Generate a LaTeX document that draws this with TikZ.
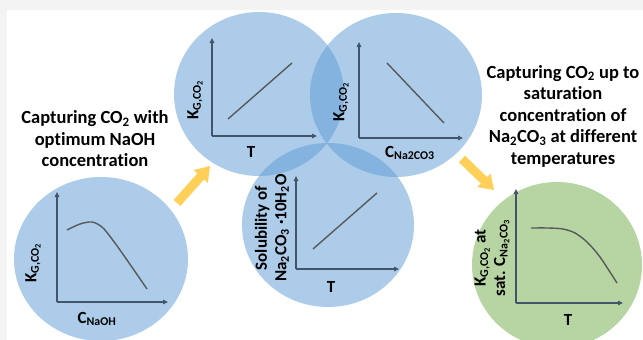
\documentclass[tikz,border=0pt]{standalone}
\usepackage{fontspec}
\setmainfont{Carlito}[Ligatures={NoCommon}]
\usetikzlibrary{arrows.meta,calc}
\definecolor{bgray}{RGB}{243,243,243}
\definecolor{cblue}{HTML}{5B9BD5}
\definecolor{cgreen}{HTML}{70AD47}
\definecolor{cyell}{RGB}{255,208,88}
\definecolor{axisc}{HTML}{44546A}
\definecolor{linec}{HTML}{595959}
\newcommand{\subs}[1]{\textsubscript{#1}}
\newcommand{\yarrow}[2]{%
  \coordinate (m) at ($(#2)!14pt!(#1)$);
  \fill[yarrowstyle] ($(#1)!4.5pt!90:(#2)$) -- ($(m)!4.5pt!-90:(#1)$) -- ($(m)!9.5pt!-90:(#1)$) -- (#2)
     -- ($(m)!9.5pt!90:(#1)$) -- ($(m)!4.5pt!90:(#1)$) -- ($(#1)!4.5pt!-90:(#2)$) -- cycle;}
\begin{document}
\begin{tikzpicture}[x=1pt,y=-1pt,
  bubble/.style={fill=cblue,fill opacity=0.5,draw=none},
  gbubble/.style={fill=cgreen,fill opacity=0.5,draw=none},
  axis/.style={draw=axisc,line width=1.4pt,-{Triangle[length=5pt,width=4.5pt]}},
  trend/.style={draw=linec,line width=1.4pt},
  lab/.style={font=\fontsize{17}{19.5}\selectfont\bfseries,inner sep=0pt,align=center},
  caption/.style={font=\fontsize{18.5}{21.5}\selectfont\bfseries,align=center,inner sep=0pt},
  yarrowstyle/.style={fill=cyell,draw=none}]
\useasboundingbox (0,0) rectangle (643,340);
\clip (0,0) rectangle (643,340);
\fill[bgray] (0,0) rectangle (643,340);
\fill[white] (7,10) rectangle (643,340);
% bubbles
\fill[bubble] (259,94) ellipse [x radius=85, y radius=82];
\fill[bubble] (396,95) ellipse [x radius=86, y radius=82];
\fill[bubble] (328,225) ellipse [x radius=86, y radius=82];
\fill[bubble] (101,259) ellipse [x radius=87, y radius=82];
\fill[gbubble] (557,265) ellipse [x radius=85, y radius=83];
% yellow arrows
\coordinate (a1t) at (177,203); \coordinate (a1h) at (210,166);
\coordinate (a2t) at (462,159); \coordinate (a2h) at (494,190);
\yarrow{a1t}{a1h}
\yarrow{a2t}{a2h}
% graph 1
\coordinate (o1) at (212,136); \coordinate (y1) at (212,38); \coordinate (x1) at (317,136);
\draw[axis] (o1) -- (y1); \draw[axis] (o1) -- (x1);
\coordinate (s1) at (228,119); \coordinate (e1) at (292,63);
\draw[trend] (s1) -- (e1);
\node[lab,rotate=90] (k1) at (195,100) {K\subs{G,CO\subs{2}}};
\node[lab] (t1) at (251,152) {T};
% graph 2
\coordinate (o2) at (359,138); \coordinate (y2) at (359,42); \coordinate (x2) at (463,138);
\draw[axis] (o2) -- (y2); \draw[axis] (o2) -- (x2);
\coordinate (s2) at (387,63); \coordinate (e2) at (444,123);
\draw[trend] (s2) -- (e2);
\node[lab,rotate=90] (k2) at (341,102) {K\subs{G,CO\subs{2}}};
\node[lab] (c2) at (410,153) {C\subs{Na2CO3}};
% graph 3
\coordinate (o3) at (296,269); \coordinate (y3) at (296,176); \coordinate (x3) at (399,269);
\draw[axis] (o3) -- (y3); \draw[axis] (o3) -- (x3);
\coordinate (s3) at (313,249); \coordinate (e3) at (377,193);
\draw[trend] (s3) -- (e3);
\node[lab,rotate=90] (k3) at (272,228) {Solubility of\\Na\subs{2}CO\subs{3} ·10H\subs{2}O};
\node[lab] (t3) at (331,287) {T};
% graph 4
\coordinate (o4) at (57,302); \coordinate (y4) at (57,192); \coordinate (x4) at (168,302);
\draw[axis] (o4) -- (y4); \draw[axis] (o4) -- (x4);
\draw[trend] plot[smooth] coordinates {(67,230) (80,224) (92,222) (102,227) (112,239) (127,260) (147,289)};
\node[lab,rotate=90] (k4) at (33,263) {K\subs{G,CO\subs{2}}};
\node[lab] (c4) at (97,319) {C\subs{NaOH}};
% graph 5
\coordinate (o5) at (516,303); \coordinate (y5) at (516,189); \coordinate (x5) at (623,303);
\draw[axis] (o5) -- (y5); \draw[axis] (o5) -- (x5);
\draw[trend] plot[smooth] coordinates {(531,228) (548,228) (563,229) (575,233) (587,242) (600,257) (617,283)};
\node[lab,rotate=90] (k5) at (492,258) {K\subs{G,CO\subs{2}} at\\sat. C\subs{Na\subs{2}CO\subs{3}}};
\node[lab] (t5) at (568,320) {T};
% captions
\node[caption] (capl) at (95,139) {Capturing CO\subs{2} with\\optimum NaOH\\concentration};
\node[caption] (capr) at (563,116) {Capturing CO\subs{2} up to\\saturation\\concentration of\\Na\subs{2}CO\subs{3} at different\\temperatures};
\end{tikzpicture}
\end{document}
